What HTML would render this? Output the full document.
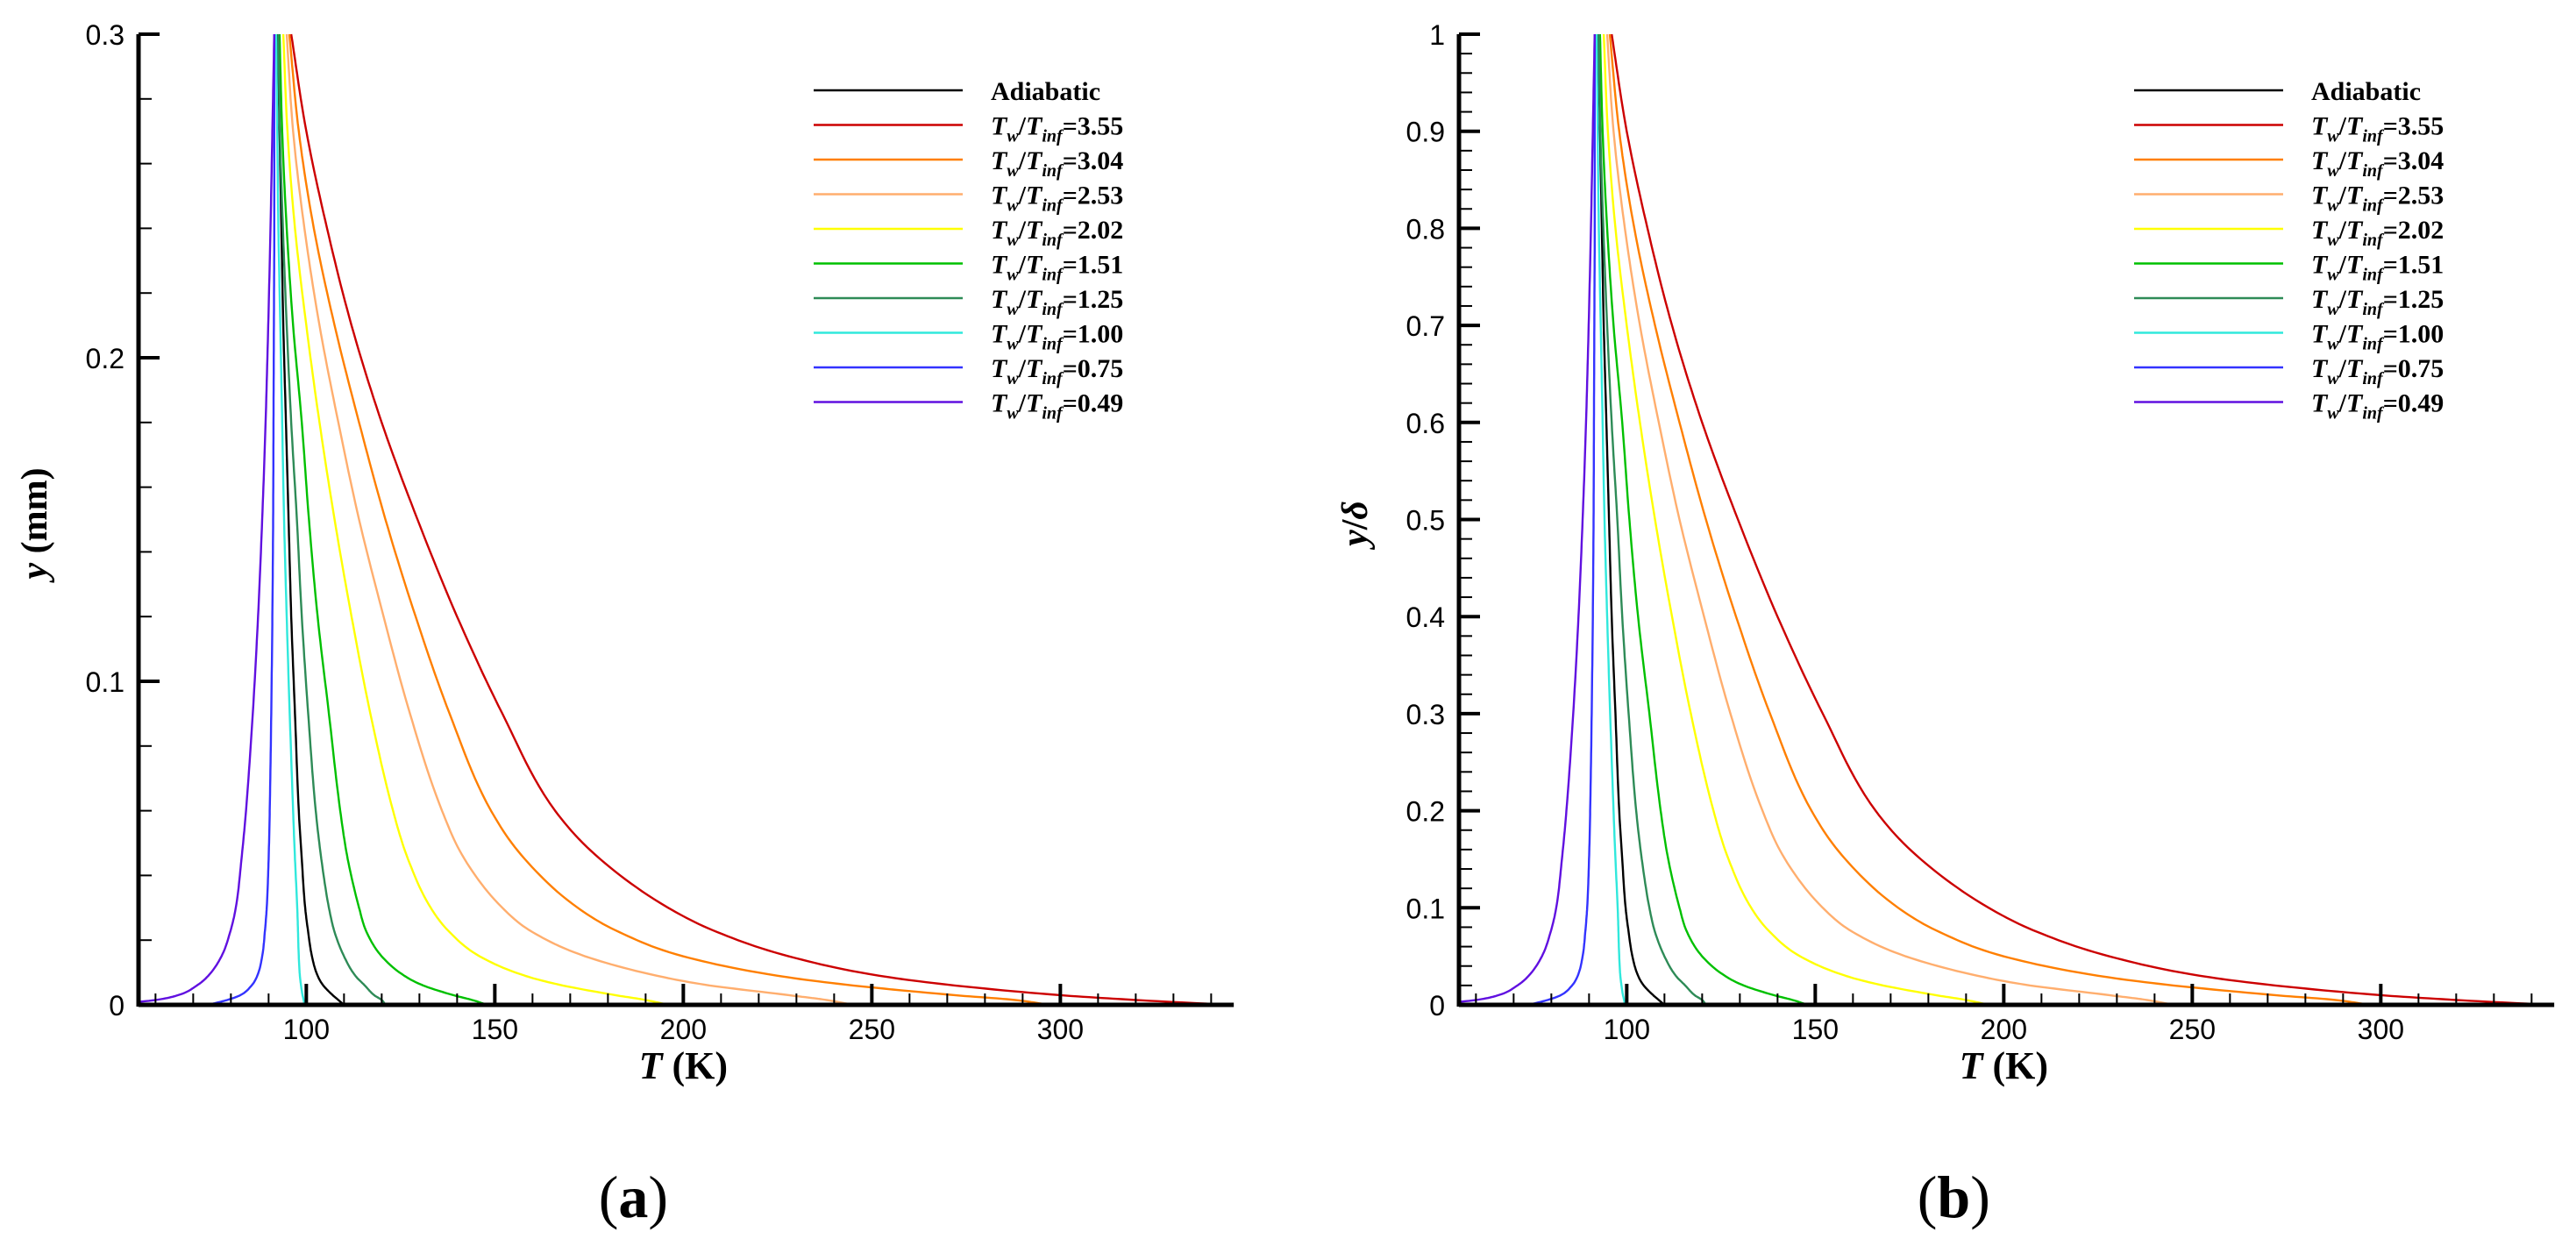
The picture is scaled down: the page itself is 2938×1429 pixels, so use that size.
<!DOCTYPE html>
<html><head><meta charset="utf-8"><style>
html,body{margin:0;padding:0;background:#fff;}
svg{display:block;}
.tick{font-family:"Liberation Sans",Arial,sans-serif;font-size:32px;fill:#000;}
.ser{font-family:"Liberation Serif","Times New Roman",serif;font-weight:bold;fill:#000;}
</style></head><body>
<svg id="fig" width="2938" height="1429" viewBox="0 0 2938 1429" xmlns="http://www.w3.org/2000/svg">
<defs>
<clipPath id="clipA"><rect x="158" y="30" width="1250" height="1118"/></clipPath>
<clipPath id="clipB"><rect x="1664" y="30" width="1250" height="1118"/></clipPath>
</defs>
</svg>
<script>
// ---- data ----
const seriesNames = ["Adiabatic","3.55","3.04","2.53","2.02","1.51","1.25","1.00","0.75","0.49"];
const seriesColors = ["#000000","#cc0000","#ff7f00","#ffae6e","#ffff00","#00c000","#2e8b57","#30e8dc","#3333ff","#6010e0"];
// y/delta levels (panel b) and y in mm (panel a)
const yDeltaLevels = [0,0.005,0.01,0.02,0.03,0.05,0.075,0.1,0.15,0.2,0.3,0.4,0.5,0.6,0.7,0.8,0.9,1.0];
const yMmLevels = [0,0.0015,0.003,0.006,0.009,0.015,0.0225,0.03,0.045,0.06,0.09,0.12,0.15,0.18,0.21,0.24,0.27,0.3];
const tAdiabatic = [110,108.5,107,104.5,103,101.5,100.5,99.7,98.8,98,97,96,95.3,94.6,93.9,93.4,92.9,92.4];
const t355 = [345,320,300,272,252,228,209,196,178,166,152,140,129.5,120,112,105.5,100,96];
const t304 = [297,288,272,245,225,200,183,172,158,149,138,129,121,114,107.5,102,98,95.5];
const t253 = [245,238,228,207,193,174,160,152,142,136,127.5,120.5,114,108.5,103.5,99.5,96.5,94.8];
const t202 = [196,190,182,168,158,146,138,133,127,123,117,112,107.5,103.5,100,97,95,93.9];
const t151 = [148,144,139,131,126,120,116,114,111,109,106,103,100.7,98.8,96.5,94.8,93.6,92.9];
const t125 = [121,120,118,115.5,113,110,107.5,106,104,102.5,100.5,98.8,97.5,96,94.8,93.8,93,92.6];
const t100 = [99.5,99.3,99,98.6,98.3,98,97.8,97.6,97,96.5,95.6,94.8,94.1,93.6,93.1,92.6,92.3,92];
const t075 = [74,79,82.5,85.5,87,88.3,89,89.5,90,90.3,90.7,91,91.2,91.3,91.4,91.5,91.5,91.5];
const t049 = [47,60,66,71,74,77.5,79.8,81.3,82.8,84,85.8,87.2,88.3,89.2,89.9,90.5,91,91.5];
const seriesT = [tAdiabatic,t355,t304,t253,t202,t151,t125,t100,t075,t049];
const xTicks = [100,150,200,250,300];
const xMinorTicks = [60,70,80,90,110,120,130,140,160,170,180,190,210,220,230,240,260,270,280,290,310,320,330,340];
const yTicksA = [0,0.1,0.2,0.3];
const yTickLabelsA = ["0","0.1","0.2","0.3"];
const yTicksB = [0,0.1,0.2,0.3,0.4,0.5,0.6,0.7,0.8,0.9,1];
const yTickLabelsB = ["0","0.1","0.2","0.3","0.4","0.5","0.6","0.7","0.8","0.9","1"];

// ---- drawing ----
const NS="http://www.w3.org/2000/svg";
const svg=document.getElementById('fig');
function mk(tag,attrs,parent){const e=document.createElementNS(NS,tag);for(const k in attrs)e.setAttribute(k,attrs[k]);(parent||svg).appendChild(e);return e;}
function monotoneSamples(ys,ts,per){
  const n=ys.length, d=[], m=new Array(n);
  for(let i=0;i<n-1;i++) d.push((ts[i+1]-ts[i])/(ys[i+1]-ys[i]));
  m[0]=d[0]; m[n-1]=d[n-2];
  for(let i=1;i<n-1;i++){ m[i]=(d[i-1]*d[i]<=0)?0:(d[i-1]+d[i])/2; }
  for(let i=0;i<n-1;i++){
    if(d[i]===0){m[i]=0;m[i+1]=0;continue;}
    const a=m[i]/d[i], b=m[i+1]/d[i], s=a*a+b*b;
    if(s>9){const t=3/Math.sqrt(s); m[i]=t*a*d[i]; m[i+1]=t*b*d[i];}
  }
  const out=[];
  for(let i=0;i<n-1;i++){
    const h=ys[i+1]-ys[i];
    for(let k=0;k<per;k++){
      const t=k/per, t2=t*t, t3=t2*t;
      const v=(2*t3-3*t2+1)*ts[i]+(t3-2*t2+t)*h*m[i]+(-2*t3+3*t2)*ts[i+1]+(t3-t2)*h*m[i+1];
      out.push([ys[i]+t*h, v]);
    }
  }
  out.push([ys[n-1],ts[n-1]]);
  return out;
}

function panel(ox, yMax, yLevels, yTicks, yLabels, minorStep, yTitleParts, letter, clipId){
  const tMin=55.5, tMax=346, x0=ox, x1=ox+(tMax-tMin)*4.3, yb=1146, yt=39;
  const X=t=>x0+(t-tMin)*4.3;
  const Y=v=>yb-(v/yMax)*(yb-yt);
  const g=mk('g',{});
  
  
  const sg=mk('g',{'clip-path':'url(#'+clipId+')'},g);
  seriesT.forEach((ts,i)=>{
    const pts=monotoneSamples(yLevels,ts,12).map(p=>X(p[1]).toFixed(1)+','+Y(p[0]).toFixed(1)).join(' ');
    const pl=mk('polyline',{points:pts,fill:'none',stroke:seriesColors[i],'stroke-width':2.4,'stroke-linejoin':'round'},sg);
    
    
  });
  const ax=mk('line',{x1:x0,y1:yb,x2:x1,y2:yb,stroke:'#000','stroke-width':5},g);
  
  
  const ay=mk('line',{x1:x0,y1:yt,x2:x0,y2:yb+2,stroke:'#000','stroke-width':5},g);
  
  
  xTicks.forEach(t=>{
    mk('line',{x1:X(t),y1:yb,x2:X(t),y2:yb-24,stroke:'#000','stroke-width':4},g);
    const tx=mk('text',{x:X(t),y:1185,'text-anchor':'middle',class:'tick'},g);
    tx.textContent=t;
    
    
  });
  xMinorTicks.forEach(t=>{mk('line',{x1:X(t),y1:yb,x2:X(t),y2:yb-13,stroke:'#000','stroke-width':2},g);});
  yTicks.forEach((v,i)=>{
    mk('line',{x1:x0,y1:Y(v),x2:x0+24,y2:Y(v),stroke:'#000','stroke-width':4},g);
    const tx=mk('text',{x:x0-16,y:Y(v)+12,'text-anchor':'end',class:'tick'},g);
    tx.textContent=yLabels[i];
    
    
  });
  for(let v=minorStep; v<yMax-1e-9; v+=minorStep){
    if(Math.abs(v/0.1-Math.round(v/0.1))<1e-6) continue;
    mk('line',{x1:x0,y1:Y(v),x2:x0+15,y2:Y(v),stroke:'#000','stroke-width':2},g);
  }
  const xt=mk('text',{x:X(200),y:1230,'text-anchor':'middle',class:'ser','font-size':44},g);
  xt.innerHTML='<tspan font-style="italic">T</tspan> (K)';
  
  
  const yt2=mk('text',{x:0,y:0,'text-anchor':'middle',class:'ser','font-size':42,transform:'translate('+(x0-105)+',597) rotate(-90)'},g);
  yt2.innerHTML=yTitleParts;
  
  
  const lg=mk('g',{},g);
  
  
  seriesNames.forEach((n,i)=>{
    const ly=103+39.5*i;
    const ln=mk('line',{x1:x0+770,y1:ly,x2:x0+940,y2:ly,stroke:seriesColors[i],'stroke-width':2.6},lg);
    
    
    const t=mk('text',{x:x0+972,y:ly+11,class:'ser','font-size':30},lg);
    if(i===0){t.textContent='Adiabatic';}
    else{t.innerHTML='<tspan font-style="italic">T</tspan><tspan font-style="italic" font-size="20" dy="8">w</tspan><tspan dy="-8">/</tspan><tspan font-style="italic">T</tspan><tspan font-style="italic" font-size="20" dy="8">inf</tspan><tspan dy="-8">='+n+'</tspan>';}
    
    
  });
  const pl=mk('text',{x:X(200)-57,y:1388,'text-anchor':'middle',class:'ser','font-size':68},g);
  pl.innerHTML='<tspan font-weight="normal">(</tspan>'+letter+'<tspan font-weight="normal">)</tspan>';
  
  
}
panel(158,0.3,yMmLevels,yTicksA,yTickLabelsA,0.02,'<tspan font-style="italic">y</tspan> (mm)','a','clipA');
panel(1664,1.0,yDeltaLevels,yTicksB,yTickLabelsB,0.02,'<tspan font-style="italic">y</tspan>/<tspan font-style="italic">δ</tspan>','b','clipB');
</script>
</body></html>
